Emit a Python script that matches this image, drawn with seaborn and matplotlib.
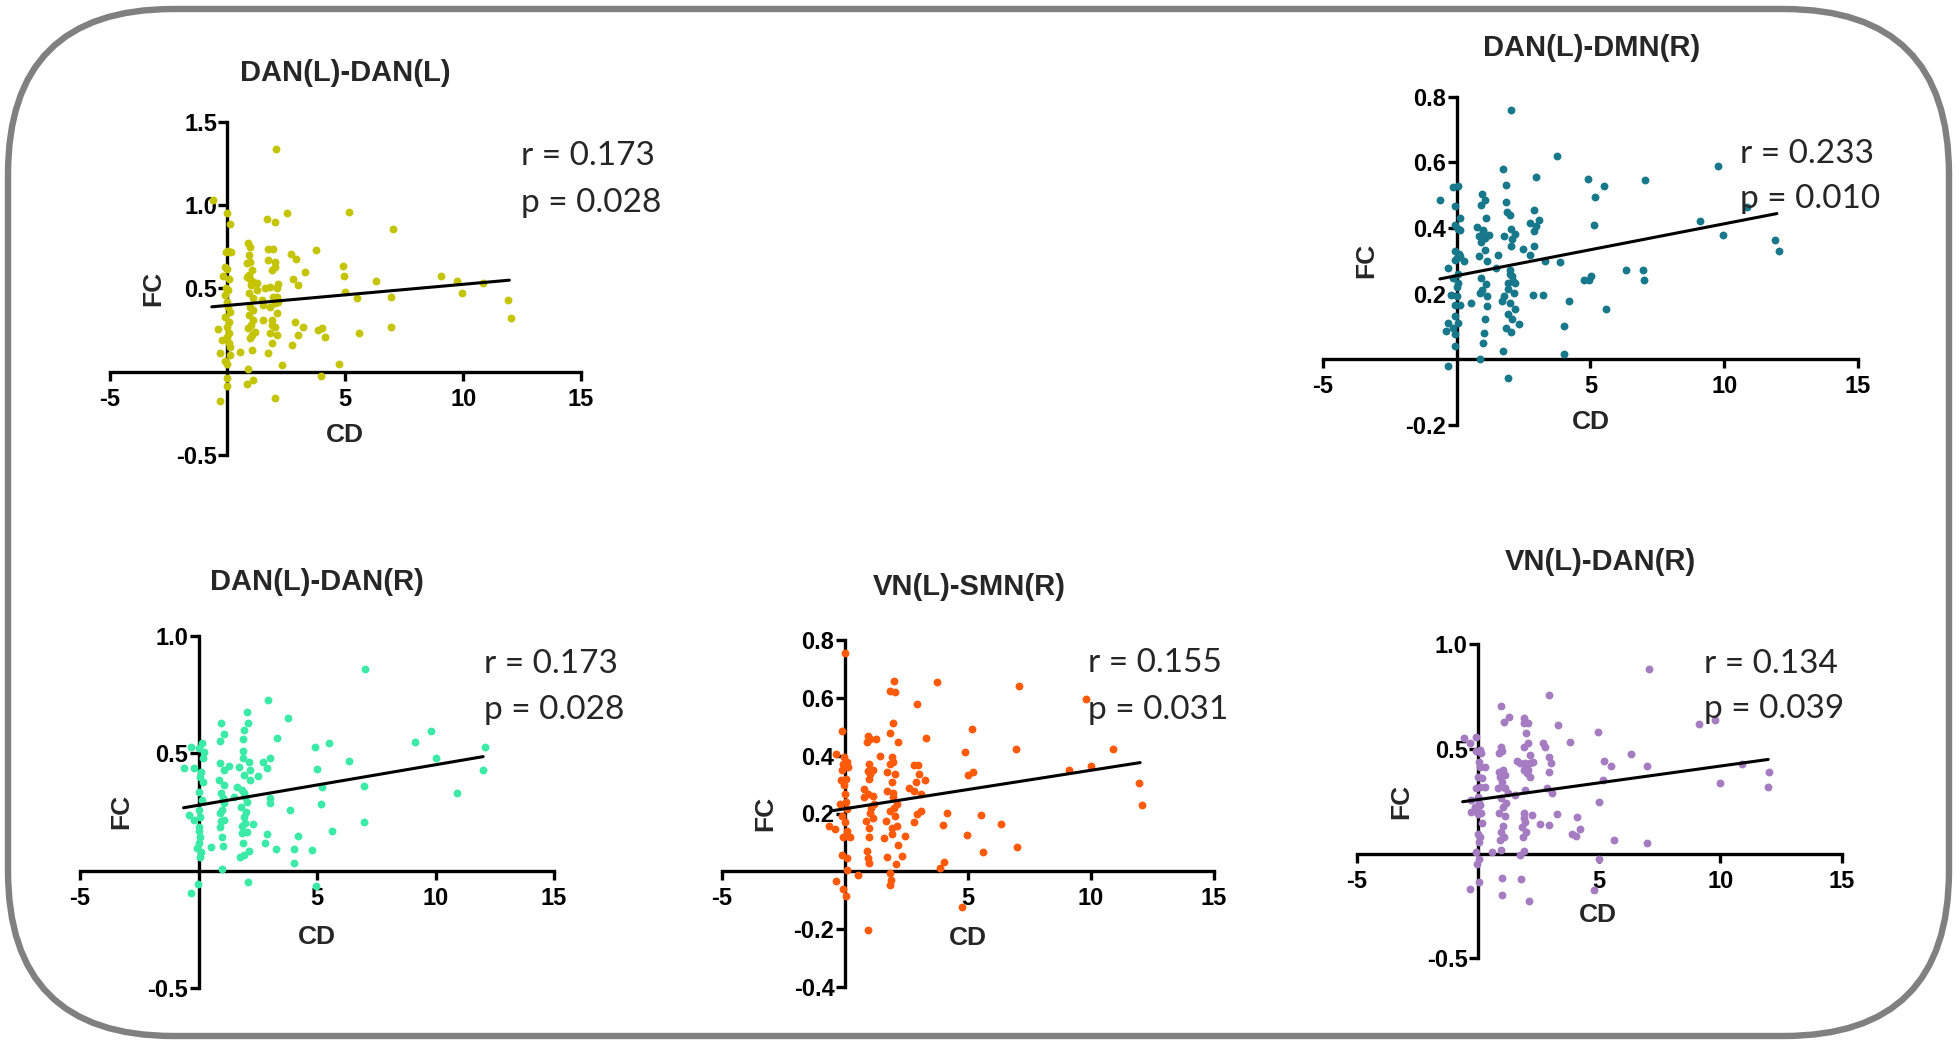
import matplotlib
matplotlib.use("Agg")
import matplotlib.pyplot as plt
import pandas as pd
import seaborn as sns
from matplotlib.patches import FancyBboxPatch

# ---- data (CD, FC) ----
dan_l_dan_l = [
    (2.06, 1.34), (-0.62, 1.03), (0.0, 0.955), (0.11, 0.89), (1.7, 0.915), (2.04, 0.90),
    (2.51, 0.955), (5.16, 0.96), (7.02, 0.857), (0.89, 0.775), (0.96, 0.75), (-0.07, 0.72),
    (0.04, 0.725), (0.14, 0.72), (0.93, 0.70), (0.96, 0.66), (0.82, 0.655), (1.73, 0.737),
    (1.95, 0.74), (1.73, 0.67), (2.03, 0.66), (1.88, 0.61), (2.72, 0.71), (2.9, 0.68),
    (3.75, 0.73), (-0.1, 0.63), (0.0, 0.615), (1.03, 0.61), (0.82, 0.57), (0.96, 0.56),
    (1.1, 0.54), (1.24, 0.535), (3.29, 0.60), (2.79, 0.56), (3.0, 0.52), (4.91, 0.635),
    (4.95, 0.575), (6.29, 0.545), (9.07, 0.575), (9.75, 0.545), (10.85, 0.535), (9.96, 0.47),
    (11.92, 0.43), (12.03, 0.32), (4.98, 0.48), (5.5, 0.445), (6.95, 0.45), (6.95, 0.27),
    (5.59, 0.23), (-0.17, 0.575), (0.04, 0.49), (-0.1, 0.46), (0.0, 0.42), (0.04, 0.39),
    (-0.1, 0.33), (0.0, 0.27), (-0.38, 0.257), (0.08, 0.23), (-0.24, 0.19), (0.11, 0.15),
    (-0.31, 0.114), (0.11, 0.10), (0.54, 0.118), (-0.1, 0.064), (0.0, 0.044), (0.0, -0.036),
    (0.0, -0.086), (-0.31, -0.175), (0.82, -0.076), (1.07, -0.05), (0.86, 0.018), (1.58, 0.50),
    (1.8, 0.51), (2.09, 0.506), (2.16, 0.53), (1.92, 0.45), (2.03, 0.41), (2.16, 0.42),
    (1.8, 0.39), (2.09, 0.35), (1.88, 0.31), (2.03, 0.27), (1.8, 0.23), (2.09, 0.22),
    (1.88, 0.17), (1.73, 0.11), (1.52, 0.31), (0.9, 0.47), (1.1, 0.44), (0.96, 0.39),
    (1.1, 0.37), (0.93, 0.34), (1.07, 0.31), (0.89, 0.26), (1.17, 0.24), (0.96, 0.20),
    (1.03, 0.13), (2.88, 0.30), (3.19, 0.27), (3.0, 0.22), (2.76, 0.16), (3.85, 0.25),
    (4.02, 0.26), (4.16, 0.21), (3.99, -0.026), (2.33, 0.038), (4.74, 0.048), (2.04, -0.16),
    (1.24, 0.49), (1.45, 0.43), (1.52, 0.40), (0.05, 0.56), (-0.05, 0.50), (0.1, 0.36),
    (0.06, 0.30), (0.0, 0.21), (0.05, 0.17), (1.0, 0.52), (0.9, 0.58), (2.0, 0.63),
    (2.1, 0.45), (1.9, 0.28), (1.0, 0.28), (1.05, 0.22),
]

dan_l_dmn_r = [
    (2.03, 0.76), (3.76, 0.618), (1.75, 0.58), (9.76, 0.59), (2.98, 0.554), (4.93, 0.549),
    (7.03, 0.545), (5.5, 0.527), (5.18, 0.496), (10.84, 0.464), (-0.61, 0.486), (-0.14, 0.525),
    (0.04, 0.527), (-0.07, 0.468), (1.86, 0.53), (1.86, 0.478), (1.89, 0.448), (1.99, 0.44),
    (0.97, 0.503), (1.07, 0.486), (0.92, 0.471), (2.9, 0.456), (3.08, 0.425), (2.74, 0.415),
    (2.98, 0.407), (2.9, 0.39), (2.03, 0.397), (2.2, 0.383), (1.78, 0.375), (2.09, 0.367),
    (5.14, 0.41), (9.09, 0.422), (9.94, 0.38), (11.89, 0.362), (12.03, 0.329), (0.14, 0.43),
    (-0.04, 0.41), (0.14, 0.395), (0.04, 0.398), (0.78, 0.403), (0.99, 0.395), (0.85, 0.377),
    (1.09, 0.43), (1.21, 0.38), (0.92, 0.356), (1.07, 0.334), (0.85, 0.314), (1.14, 0.299),
    (-0.04, 0.329), (0.14, 0.314), (-0.07, 0.304), (0.28, 0.299), (-0.33, 0.278), (-0.14, 0.248),
    (0.07, 0.233), (-0.21, 0.197), (0.03, 0.192), (-0.07, 0.167), (0.14, 0.164), (-0.07, 0.132),
    (0.07, 0.111), (-0.33, 0.111), (-0.14, 0.096), (-0.38, 0.086), (-0.04, 0.076), (-0.04, 0.04),
    (-0.33, -0.02), (2.49, 0.336), (2.74, 0.319), (2.9, 0.344), (3.31, 0.299), (3.85, 0.296),
    (1.56, 0.319), (1.49, 0.278), (1.99, 0.273), (2.06, 0.253), (1.92, 0.233), (2.2, 0.233),
    (1.92, 0.213), (2.13, 0.203), (1.78, 0.192), (1.7, 0.177), (1.99, 0.172), (2.2, 0.154),
    (1.92, 0.137), (2.06, 0.122), (2.34, 0.109), (1.85, 0.096), (2.03, 0.083), (1.75, 0.025),
    (1.92, -0.056), (0.92, 0.248), (1.09, 0.228), (0.89, 0.203), (1.14, 0.192), (1.14, 0.162),
    (1.07, 0.124), (1.04, 0.081), (0.99, 0.051), (0.89, 0.0), (0.53, 0.172), (2.86, 0.195),
    (3.22, 0.195), (4.19, 0.177), (4.02, 0.101), (4.02, 0.015), (5.58, 0.152), (4.76, 0.241),
    (5.01, 0.255), (4.94, 0.243), (6.32, 0.271), (6.96, 0.273), (6.99, 0.243), (0.0, 0.31),
    (0.1, 0.32), (0.05, 0.26), (0.0, 0.22), (1.0, 0.39), (1.05, 0.37), (0.95, 0.21),
    (2.0, 0.26), (2.1, 0.24), (2.05, 0.345),
]

dan_l_dan_r = [
    (7.04, 0.86), (2.93, 0.727), (2.04, 0.678), (3.77, 0.649), (0.94, 0.631), (2.08, 0.631),
    (1.9, 0.60), (1.08, 0.582), (9.79, 0.595), (3.31, 0.564), (1.87, 0.562), (9.13, 0.548),
    (5.52, 0.543), (4.93, 0.528), (12.07, 0.526), (0.14, 0.545), (-0.32, 0.528), (0.0, 0.521),
    (0.24, 0.507), (0.92, 0.551), (1.87, 0.511), (3.0, 0.482), (2.72, 0.462), (2.9, 0.436),
    (2.15, 0.464), (2.18, 0.429), (1.87, 0.479), (6.34, 0.466), (10.0, 0.482), (12.0, 0.429),
    (5.0, 0.432), (2.51, 0.403), (2.18, 0.386), (-0.63, 0.436), (-0.18, 0.436), (0.21, 0.479),
    (0.1, 0.422), (0.18, 0.379), (0.0, 0.337), (0.14, 0.301), (0.0, 0.259), (0.07, 0.23),
    (-0.38, 0.237), (-0.18, 0.216), (0.04, 0.188), (0.07, 0.145), (0.0, 0.116), (0.1, 0.081),
    (-0.07, 0.095), (0.92, 0.457), (1.06, 0.429), (0.87, 0.386), (1.08, 0.365), (0.94, 0.33),
    (1.06, 0.287), (0.89, 0.244), (1.08, 0.216), (0.92, 0.188), (0.99, 0.145), (1.03, 0.105),
    (1.27, 0.446), (0.52, 0.102), (1.01, 0.006), (1.69, 0.443), (1.93, 0.408), (1.62, 0.358),
    (1.83, 0.344), (1.97, 0.315), (1.48, 0.315), (1.79, 0.273), (2.04, 0.294), (1.9, 0.23),
    (1.97, 0.202), (1.83, 0.159), (2.04, 0.166), (1.86, 0.116), (1.76, 0.06), (1.9, 0.067),
    (2.15, 0.084), (2.32, 0.199), (3.0, 0.308), (3.03, 0.287), (3.87, 0.259), (2.89, 0.155),
    (2.79, 0.119), (3.27, 0.092), (4.04, 0.091), (4.18, 0.149), (4.04, 0.034), (4.79, 0.088),
    (5.63, 0.169), (5.17, 0.284), (5.21, 0.355), (7.0, 0.361), (7.0, 0.209), (10.92, 0.332),
    (-0.03, -0.058), (-0.31, -0.094), (2.07, -0.05), (4.97, -0.064), (0.05, 0.40), (0.0, 0.17),
    (1.0, 0.26), (1.05, 0.31), (0.95, 0.21), (1.9, 0.33), (2.0, 0.25), (1.85, 0.19),
    (0.05, 0.06),
]

vn_l_smn_r = [
    (0.0, 0.756), (2.01, 0.657), (3.76, 0.655), (7.07, 0.64), (1.83, 0.622), (2.04, 0.62),
    (2.92, 0.579), (9.79, 0.595), (1.97, 0.514), (-0.1, 0.485), (5.17, 0.491), (1.83, 0.477),
    (0.94, 0.467), (1.03, 0.459), (0.89, 0.448), (1.27, 0.459), (3.28, 0.462), (2.15, 0.448),
    (6.97, 0.424), (10.92, 0.424), (4.9, 0.413), (-0.35, 0.407), (-0.04, 0.395), (0.07, 0.378),
    (-0.07, 0.372), (0.14, 0.36), (-0.1, 0.349), (0.04, 0.32), (-0.14, 0.316), (1.41, 0.398),
    (1.9, 0.395), (1.97, 0.378), (1.83, 0.372), (0.99, 0.37), (0.92, 0.347), (1.03, 0.335),
    (1.13, 0.351), (1.73, 0.343), (2.04, 0.335), (1.9, 0.308), (2.82, 0.366), (2.96, 0.366),
    (3.0, 0.335), (3.24, 0.316), (2.89, 0.308), (2.82, 0.279), (3.1, 0.267), (2.61, 0.287),
    (5.0, 0.334), (5.21, 0.343), (9.13, 0.352), (10.0, 0.364), (11.97, 0.305), (12.08, 0.23),
    (0.77, 0.285), (0.94, 0.267), (1.13, 0.262), (0.77, 0.256), (1.2, 0.233), (1.03, 0.203),
    (1.13, 0.186), (0.85, 0.174), (0.99, 0.151), (0.99, 0.119), (0.89, 0.072), (0.94, 0.047),
    (0.99, 0.029), (0.52, -0.014), (0.94, -0.203), (1.73, 0.279), (1.97, 0.256), (2.11, 0.233),
    (1.83, 0.209), (2.04, 0.192), (1.69, 0.174), (1.9, 0.151), (1.59, 0.116), (1.9, 0.128),
    (2.15, 0.091), (2.11, 0.157), (2.46, 0.122), (2.32, 0.052), (1.73, 0.049), (2.07, 0.026),
    (1.83, -0.006), (1.87, -0.029), (1.83, -0.047), (2.92, 0.198), (2.82, 0.169), (3.1, 0.209),
    (0.0, 0.267), (-0.21, 0.233), (0.07, 0.215), (-0.1, 0.192), (-0.66, 0.157), (-0.39, 0.145),
    (0.1, 0.14), (-0.07, 0.119), (0.21, 0.119), (-0.1, 0.056), (0.07, 0.047), (0.1, 0.006),
    (-0.35, -0.033), (-0.07, -0.06), (0.04, -0.084), (4.15, 0.203), (4.01, 0.16), (4.04, 0.033),
    (3.87, 0.012), (5.52, 0.195), (4.97, 0.126), (5.61, 0.067), (6.34, 0.165), (7.01, 0.085),
    (4.76, -0.122), (0.05, 0.24), (-0.05, 0.30), (0.0, 0.17), (1.0, 0.32), (1.05, 0.22),
    (2.0, 0.22), (1.95, 0.27),
]

vn_l_dan_r = [
    (7.04, 0.882), (2.92, 0.759), (0.94, 0.703), (1.28, 0.655), (1.08, 0.631), (1.88, 0.65),
    (1.88, 0.626), (2.08, 0.623), (3.31, 0.615), (9.1, 0.62), (9.79, 0.639), (4.93, 0.583),
    (1.97, 0.578), (3.79, 0.535), (-0.58, 0.551), (-0.1, 0.556), (-0.31, 0.53), (2.08, 0.527),
    (1.88, 0.511), (2.68, 0.527), (2.78, 0.511), (0.97, 0.511), (1.01, 0.492), (0.07, 0.495),
    (-0.07, 0.492), (0.14, 0.479), (0.88, 0.479), (2.15, 0.471), (2.92, 0.463), (6.32, 0.474),
    (0.03, 0.439), (0.07, 0.415), (0.28, 0.415), (1.6, 0.444), (1.74, 0.431), (1.94, 0.435),
    (2.15, 0.431), (2.29, 0.439), (3.03, 0.431), (5.18, 0.444), (5.49, 0.419), (6.97, 0.419),
    (10.88, 0.428), (12.01, 0.391), (0.88, 0.391), (1.04, 0.399), (1.11, 0.375), (0.9, 0.364),
    (1.88, 0.399), (2.04, 0.383), (2.15, 0.367), (2.92, 0.391), (0.0, 0.367), (0.18, 0.359),
    (0.07, 0.319), (0.28, 0.319), (5.14, 0.351), (10.0, 0.339), (11.96, 0.316), (-0.1, 0.312),
    (0.83, 0.312), (1.11, 0.312), (1.25, 0.288), (0.97, 0.264), (1.15, 0.24), (1.04, 0.224),
    (0.88, 0.192), (1.11, 0.179), (1.04, 0.131), (0.97, 0.104), (1.07, 0.08), (0.9, 0.067),
    (0.97, 0.016), (0.56, 0.008), (1.53, 0.28), (1.94, 0.304), (2.85, 0.312), (3.06, 0.288),
    (1.88, 0.192), (2.22, 0.184), (1.94, 0.152), (1.81, 0.128), (1.99, 0.104), (1.85, 0.08),
    (1.74, -0.008), (1.9, 0.013), (2.54, 0.141), (2.92, 0.136), (3.26, 0.188), (4.07, 0.176),
    (4.21, 0.12), (3.89, 0.096), (4.03, 0.083), (5.0, 0.248), (5.63, 0.067), (6.99, 0.051),
    (-0.28, 0.256), (-0.14, 0.224), (0.07, 0.232), (-0.28, 0.2), (0.14, 0.195), (0.18, 0.147),
    (0.0, 0.096), (0.07, 0.08), (0.03, 0.056), (-0.07, 0.008), (0.03, -0.024), (-0.04, -0.048),
    (0.03, -0.136), (-0.31, -0.168), (1.01, -0.115), (1.0, -0.2), (1.76, -0.12), (2.11, -0.224),
    (5.0, -0.024), (4.79, -0.173), (0.0, 0.27), (0.05, 0.24), (-0.05, 0.21), (0.0, 0.19),
    (1.0, 0.34), (1.95, 0.42), (2.05, 0.40), (1.9, 0.17),
]

# regression line end points (CD, FC)
fit_lines = {
    "DAN(L)-DAN(L)": [(-0.66, 0.39), (11.96, 0.55)],
    "DAN(L)-DMN(R)": [(-0.62, 0.245), (11.97, 0.444)],
    "DAN(L)-DAN(R)": [(-0.63, 0.268), (12.01, 0.486)],
    "VN(L)-SMN(R)": [(-0.56, 0.209), (12.01, 0.376)],
    "VN(L)-DAN(R)": [(-0.63, 0.248), (11.97, 0.45)],
}

r_values = ["0.173", "0.233", "0.173", "0.155", "0.134"]
p_values = ["0.028", "0.010", "0.028", "0.031", "0.039"]

x_ticks = [-5, 5, 10, 15]
y_ticks = {
    "DAN(L)-DAN(L)": [-0.5, 0.5, 1.0, 1.5],
    "DAN(L)-DMN(R)": [-0.2, 0.2, 0.4, 0.6, 0.8],
    "DAN(L)-DAN(R)": [-0.5, 0.5, 1.0],
    "VN(L)-SMN(R)": [-0.4, -0.2, 0.2, 0.4, 0.6, 0.8],
    "VN(L)-DAN(R)": [-0.5, 0.5, 1.0],
}

# ---- layout (pixels in the 1960 x 1045 picture) ----
W, H = 1960, 1045
panels = [
    # axes box (l, r, top, bottom), title / FC / CD centres, r-p text x and baselines
    dict(title="DAN(L)-DAN(L)", pts=dan_l_dan_l, color="#c4c400",
         box=(109.5, 581, 122, 455), ylim=(-0.5, 1.5),
         t=(345, 73), fc=(153, 288), cd=(345, 435), tx=521, ry=165, py=212),
    dict(title="DAN(L)-DMN(R)", pts=dan_l_dmn_r, color="#16788a",
         box=(1322.7, 1858, 96.7, 425), ylim=(-0.2, 0.8),
         t=(1591.7, 48), fc=(1366.7, 260), cd=(1591, 421.7), tx=1740, ry=163, py=208),
    dict(title="DAN(L)-DAN(R)", pts=dan_l_dan_r, color="#3ceaa8",
         box=(80, 554, 636, 988), ylim=(-0.5, 1.0),
         t=(316.7, 582), fc=(121.7, 811.7), cd=(316.7, 936.7), tx=484, ry=672.7, py=719.3),
    dict(title="VN(L)-SMN(R)", pts=vn_l_smn_r, color="#ff5a0a",
         box=(722, 1213.6, 640, 987), ylim=(-0.4, 0.8),
         t=(969, 586.7), fc=(765, 813), cd=(968, 938), tx=1088, ry=672.3, py=719),
    dict(title="VN(L)-DAN(R)", pts=vn_l_dan_r, color="#a57cc2",
         box=(1356.7, 1841.7, 644.3, 958.3), ylim=(-0.5, 1.0),
         t=(1600, 561.7), fc=(1401.7, 801.7), cd=(1598, 915), tx=1704, ry=672.7, py=718.3),
]

sns.set_style("white")
plt.rcParams["font.family"] = ["Liberation Sans", "DejaVu Sans"]
plt.rcParams["axes.unicode_minus"] = False

fig = plt.figure(figsize=(W / 100, H / 100), dpi=100)

# rounded grey frame
bg = fig.add_axes([0, 0, 1, 1])
bg.set_xlim(0, W)
bg.set_ylim(0, H)
bg.axis("off")
bg.add_patch(FancyBboxPatch(
    (8, 9), 1941, 1027, boxstyle="round,pad=0,rounding_size=165",
    fill=False, edgecolor="#808080", linewidth=4.6,
))


def fx(x):
    return x / W


def fy(y):
    return 1 - y / H


for i, p in enumerate(panels):
    l, r, t, b = p["box"]
    ax = fig.add_axes([fx(l), fy(b), (r - l) / W, (b - t) / H])
    ax.patch.set_alpha(0)

    df = pd.DataFrame(p["pts"], columns=["CD", "FC"])
    sns.scatterplot(data=df, x="CD", y="FC", ax=ax, color=p["color"], s=32,
                    linewidth=0, clip_on=False, zorder=3)
    line = pd.DataFrame(fit_lines[p["title"]], columns=["CD", "FC"])
    sns.lineplot(data=line, x="CD", y="FC", ax=ax, color="black",
                 linewidth=2.2, zorder=4)

    ax.set_xlim(-5, 15)
    ax.set_ylim(*p["ylim"])
    ax.set_xlabel("")
    ax.set_ylabel("")
    for side in ["top", "right"]:
        ax.spines[side].set_visible(False)
    ax.spines["left"].set_position(("data", 0))
    ax.spines["bottom"].set_position(("data", 0))
    for side in ["left", "bottom"]:
        ax.spines[side].set_linewidth(2.4)
        ax.spines[side].set_color("black")
        ax.spines[side].set_zorder(2)

    ax.set_xticks(x_ticks)
    ax.set_xticklabels([str(v) for v in x_ticks])
    yt = y_ticks[p["title"]]
    ax.set_yticks(yt)
    ax.set_yticklabels([f"{v:.1f}" for v in yt])
    ax.tick_params(axis="both", direction="out", length=6.5, width=2.4,
                   colors="black", labelsize=17)
    ax.tick_params(axis="x", pad=5)
    ax.tick_params(axis="y", pad=1)
    ax.tick_params(left=True, bottom=True)
    for lab in ax.get_xticklabels() + ax.get_yticklabels():
        lab.set_fontweight("bold")

    fig.text(fx(p["t"][0]), fy(p["t"][1]), p["title"], ha="center",
             va="center", fontsize=21, fontweight="bold")
    fig.text(fx(p["fc"][0]), fy(p["fc"][1]), "FC", ha="center", va="center",
             rotation=90, fontsize=19, fontweight="bold")
    fig.text(fx(p["cd"][0]), fy(p["cd"][1]), "CD", ha="center", va="center",
             fontsize=19, fontweight="bold")
    fig.text(fx(p["tx"]), fy(p["ry"]), f"r = {r_values[i]}", ha="left",
             va="baseline", fontsize=24, family="Lato")
    fig.text(fx(p["tx"]), fy(p["py"]), f"p = {p_values[i]}", ha="left",
             va="baseline", fontsize=24, family="Lato")

fig.savefig("out.png", dpi=100)
